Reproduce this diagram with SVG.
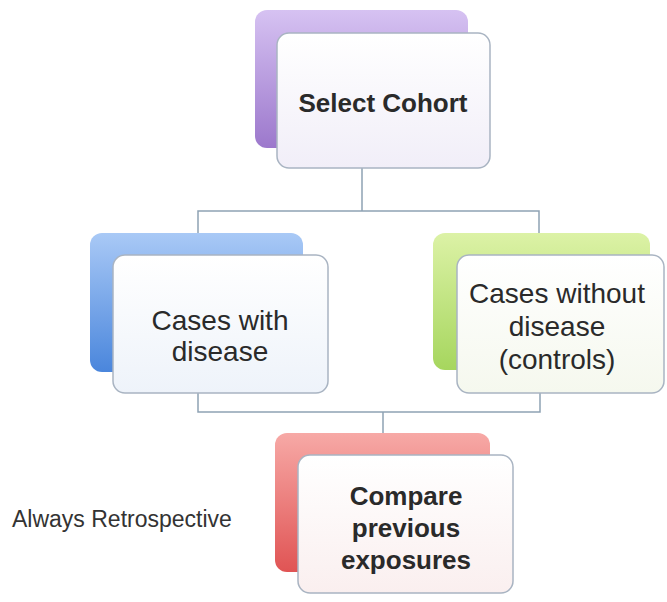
<svg xmlns="http://www.w3.org/2000/svg" width="667" height="602" viewBox="0 0 667 602">
<defs>
<linearGradient id="gP" x1="0" y1="0" x2="0" y2="1"><stop offset="0" stop-color="#d6c2f2"/><stop offset="1" stop-color="#9c78cc"/></linearGradient>
<linearGradient id="gB" x1="0" y1="0" x2="0" y2="1"><stop offset="0" stop-color="#a9c9f6"/><stop offset="1" stop-color="#4a86dc"/></linearGradient>
<linearGradient id="gG" x1="0" y1="0" x2="0" y2="1"><stop offset="0" stop-color="#dcf2a6"/><stop offset="1" stop-color="#a6d65e"/></linearGradient>
<linearGradient id="gR" x1="0" y1="0" x2="0" y2="1"><stop offset="0" stop-color="#f7a9a6"/><stop offset="1" stop-color="#e05454"/></linearGradient>
<linearGradient id="fP" x1="0" y1="0" x2="0" y2="1"><stop offset="0" stop-color="#ffffff"/><stop offset="1" stop-color="#f1eef8"/></linearGradient>
<linearGradient id="fB" x1="0" y1="0" x2="0" y2="1"><stop offset="0" stop-color="#ffffff"/><stop offset="1" stop-color="#eef3fa"/></linearGradient>
<linearGradient id="fG" x1="0" y1="0" x2="0" y2="1"><stop offset="0" stop-color="#ffffff"/><stop offset="1" stop-color="#f5f8ee"/></linearGradient>
<linearGradient id="fR" x1="0" y1="0" x2="0" y2="1"><stop offset="0" stop-color="#ffffff"/><stop offset="1" stop-color="#faefef"/></linearGradient>
</defs>
<style>
.back{stroke:none}
.front{stroke:#a9b4c2;stroke-width:1.5}
.conn{fill:none;stroke:#8ea2b4;stroke-width:1.5}
.t{font-family:"Liberation Sans",Arial,sans-serif;text-anchor:middle;fill:#2a2a2a}
.b{font-weight:bold;font-size:26px}
.r{font-size:28px}
.note{font-family:"Liberation Sans",Arial,sans-serif;font-size:23px;fill:#333}
</style>
<g id="connectors">
<path class="conn" d="M362 168 V211 M198 233 V211 H539 V233"/>
<path class="conn" d="M198 393 V412 H540 V393 M383 412 V433"/>
</g>
<g id="select-cohort">
<rect class="back" x="255" y="10" width="213" height="138" rx="12" fill="url(#gP)"/>
<rect class="front" x="277" y="33" width="213" height="135" rx="12" fill="url(#fP)"/>
<text class="t b" x="383" y="112">Select Cohort</text>
</g>
<g id="cases-with-disease">
<rect class="back" x="90" y="233" width="213" height="139" rx="12" fill="url(#gB)"/>
<rect class="front" x="113" y="255" width="215" height="138" rx="12" fill="url(#fB)"/>
<text class="t r" x="220" y="330">Cases with</text>
<text class="t r" x="220" y="361">disease</text>
</g>
<g id="cases-without-disease">
<rect class="back" x="433" y="233" width="217" height="137" rx="12" fill="url(#gG)"/>
<rect class="front" x="457" y="255" width="207" height="138" rx="12" fill="url(#fG)"/>
<text class="t r" x="557" y="303">Cases without</text>
<text class="t r" x="557" y="336">disease</text>
<text class="t r" x="557" y="369">(controls)</text>
</g>
<g id="compare-exposures">
<rect class="back" x="275" y="433" width="215" height="139" rx="12" fill="url(#gR)"/>
<rect class="front" x="298" y="455" width="215" height="138" rx="12" fill="url(#fR)"/>
<text class="t b" x="406" y="505">Compare</text>
<text class="t b" x="406" y="537">previous</text>
<text class="t b" x="406" y="569">exposures</text>
</g>
<text class="note" x="12" y="527">Always Retrospective</text>
</svg>
